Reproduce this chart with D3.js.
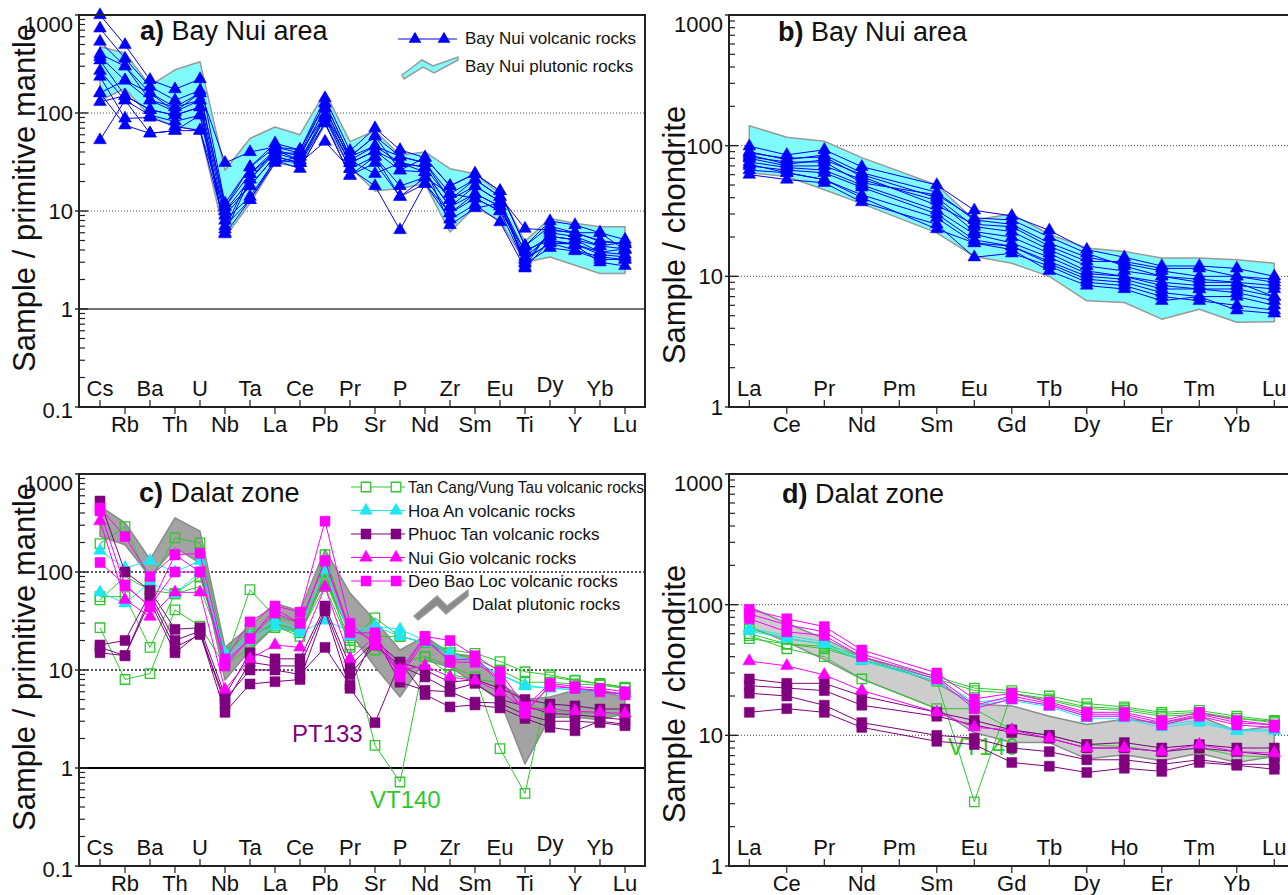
<!DOCTYPE html>
<html>
<head>
<meta charset="utf-8">
<script src="https://cdn.jsdelivr.net/npm/d3@7/dist/d3.min.js"></script>
<style>
body { margin: 0; background: #fff; }
svg { font-family: "Liberation Sans", Arial, sans-serif; }
</style>
</head>
<body>
<div id="chart"></div>
<script>
// Spider + REE diagrams, Bay Nui area and Dalat zone

// ==========================================================
// Element lists and tick values
var spiderElements = ["Cs", "Rb", "Ba", "Th", "U", "Nb", "Ta", "La", "Ce", "Pb", "Pr",
    "Sr", "P", "Nd", "Zr", "Sm", "Eu", "Ti", "Dy", "Y", "Yb", "Lu"];
var reeElements = ["La", "Ce", "Pr", "Nd", "Pm", "Sm", "Eu", "Gd", "Tb", "Dy", "Ho", "Er", "Tm", "Yb", "Lu"];
var spiderTicks = [0.1, 1, 10, 100, 1000];
var reeTicks = [1, 10, 100, 1000];

// ==========================================================
// a) Bay Nui - primitive mantle normalised
var bayNuiPlutonicUpper = [475, 410, 190, 276, 334, 26, 55, 72, 60, 163, 51, 66, 37, 40, 27, 24, 15, 4.9, 8.4, 7.5, 6.9, 6.9];
var bayNuiPlutonicLower = [134, 178, 92, 73, 67, 5.4, 12, 31, 28, 76, 28, 16, 17, 19, 6.1, 11, 8, 3.0, 3.4, 2.8, 2.3, 2.3];
var bayNuiVolcanicSpider = [
    [1000, 495, 218, 175, 222, 12, 28, 49, 42, 142, 41, 70, 42, 35, 18, 24, 16, 4.4, 7.9, 7.2, 6.0, 5.1],
    [730, 360, 186, 135, 170, 31, 40, 45, 39, 126, 36, 58, 36, 31, 15, 21, 14, 6.6, 6.4, 6.0, 4.9, 4.6],
    [535, 300, 160, 115, 160, 11, 24, 42, 36, 112, 33, 46, 31, 28, 13, 18, 12.5, 3.8, 5.5, 5.1, 4.4, 4.1],
    [375, 215, 135, 103, 135, 10, 21, 39, 33, 96, 31, 41, 26, 25, 11, 15, 11.2, 3.2, 4.7, 4.6, 3.8, 3.6],
    [345, 150, 108, 95, 115, 9, 18, 36, 31, 89, 27, 36, 18, 22, 9.5, 13.5, 10, 2.9, 4.2, 3.9, 3.2, 3.2],
    [270, 135, 95, 82, 95, 8, 14, 33, 27, 79, 23, 31, 14, 19, 8.2, 11.6, 7.7, 2.6, 5.0, 4.5, 3.0, 2.75],
    [235, 88, 90, 73, 66, 7, 13, 31, 36, 112, 33, 24, 31, 28, 7.2, 10.7, 12, 3.0, 6.0, 5.5, 4.4, 4.8],
    [160, 75, 62, 66, 95, 6.5, 24, 39, 39, 96, 36, 46, 36, 31, 13, 21, 14, 2.7, 6.4, 6.0, 5.0, 4.6],
    [130, 150, 108, 95, 115, 6, 21, 42, 33, 89, 31, 41, 31, 25, 11, 18, 12.5, 3.4, 5.5, 5.1, 3.8, 4.1],
    [53, 135, 62, 66, 66, 10, 18, 36, 31, 51, 27, 18, 6.4, 19, 9.5, 15, 11.2, 3.2, 4.7, 4.0, 3.4, 3.2],
    [400, 300, 135, 115, 135, 5.8, 13, 33, 31, 79, 23, 36, 14, 22, 15, 13.5, 10, 4.0, 5.0, 4.6, 3.6, 3.4],
    [160, 215, 160, 103, 160, 11, 28, 45, 42, 126, 36, 58, 26, 35, 18, 24, 16, 4.4, 7.0, 6.0, 6.0, 4.0]
];

// b) Bay Nui - chondrite normalised (Pm not analysed)
var bayNuiReeUpper = [142, 116, 108, 81, null, 50, 27, 30, 21, 16.5, 15.5, 13.8, 13.8, 13.4, 12.6];
var bayNuiReeLower = [62, 58, 46, 36, null, 21.5, 14.2, 12.6, 10, 6.5, 6.3, 4.7, 5.6, 4.45, 4.5];
var bayNuiVolcanicRee = [
    [99, 85, 93, 69, null, 50, 32, 29, 22.5, 16, 14, 12, 12, 11.5, 10],
    [90, 78, 85, 62, null, 44, 27, 25, 18, 14, 12.5, 11, 10, 10, 9],
    [85, 72, 78, 60, null, 40, 24, 22, 16, 12, 11, 10, 9, 9, 8.5],
    [80, 70, 70, 55, null, 38, 22, 20, 15, 11, 10, 9, 8.5, 8.5, 8],
    [75, 68, 65, 50, null, 32, 21, 18, 14, 10.5, 10, 8.5, 8, 8, 7],
    [70, 65, 62, 48, null, 30, 19, 17, 13, 10, 9.5, 8, 8, 7.5, 6.5],
    [65, 62, 55, 42, null, 28, 18, 17, 12.5, 9.5, 9, 7.5, 7, 7, 6],
    [60, 55, 52, 37, null, 25, 14, 15, 12, 9, 8.5, 7, 6.5, 6, 5.5],
    [88, 80, 82, 58, null, 35, 25, 24, 17, 13, 13, 11.5, 11.5, 10, 9.5],
    [72, 62, 55, 40, null, 23, 18, 16, 11, 8.5, 8, 6.5, 7, 5.5, 5.2],
    [82, 75, 75, 52, null, 42, 28, 27, 20, 15, 12, 10, 9.5, 9, 7]
];

// c) Dalat zone - primitive mantle normalised
var dalatPlutonicUpper = [470, 318, 134, 357, 261, 17, 28, 48, 40, 169, 61, 32, 16, 22, 14.8, 13.7, 7.3, 5.0, 5.3, 6.2, 6.0, 5.3];
var dalatPlutonicLower = [232, 190, 90, 177, 123, 7.9, 16, 28, 24, 83, 24, 10.8, 5.3, 12.6, 10.7, 7.3, 4.9, 1.1, 3.3, 3.3, 3.1, 3.6];
var tanCangSpider = [
    [195, 290, 78, 223, 198, 15, 22, 30, 25, 150, 25, 22, 22, 19, 16, 14.8, 12.2, 9.6, 8.9, 7.9, 7.3, 6.7],
    [56, 56, 17, 60, 90, 12, 66, 35, 30, 83, 20, 34, 22, 19, 15, 13, 10, 7.5, 7.5, 7.2, 7, 6.5],
    [52, 90, 65, 60, 71, 14, 26, 27, 24, 71, 18, 16, 12, 13.7, 9, 8, 7.5, 4.5, 3.8, 3.7, 3.6, 3.5],
    [27, 8, 9.2, 41, 28, 11, 17, 28, 22, 100, 17, 1.7, 0.72, 13.7, 11, 8.5, 1.58, 0.55, 8.5, 7.8, 7.2, 6.6]
];
var hoaAnSpider = [
    [165, 110, 130, 100, 130, 15, 22, 32, 26, 105, 22, 28, 26, 20, 15, 12, 9, 7, 6.5, 6.3, 6, 5.8],
    [62, 48, 78, 60, 100, 14, 20, 28, 24, 32, 25, 28, 22, 19, 14, 12, 9, 6.8, 6.5, 6.3, 6, 5.8]
];
var phuocTanSpider = [
    [530, 100, 65, 26, 27, 5.5, 15, 13, 13, 45, 11, 20, 12, 10, 7.5, 8, 6.5, 5, 4.5, 4.3, 4, 4],
    [18, 20, 60, 20, 25, 4.5, 12, 11, 11, 42, 9, 18, 11, 8.5, 6.2, 7.3, 5, 4.3, 3.6, 3.5, 3.3, 3.1],
    [17, 14, 55, 17, 23, 5, 10, 10, 9, 17, 7, 22, 7.5, 6.2, 6, 4.7, 4.6, 3.5, 3, 3, 2.9, 2.7],
    [15, 14, 50, 15, 24, 3.7, 7.2, 7.6, 8, 40, 6.5, 2.9, 12, 5.6, 4.2, 4.4, 4.1, 3.2, 2.6, 2.4, 3, 2.8]
];
var nuiGioSpider = [
    [330, 52, 35, 62, 62, 6.3, 13, 18, 17, 70, 13, 22, 10, 11, 8.5, 7.8, 6, 4, 4, 3.8, 3.7, 3.6]
];
var deoBaoLocSpider = [
    [450, 230, 90, 150, 155, 13, 31, 45, 39, 330, 30, 18, 10, 22, 20, 14, 9.6, 4.2, 7.3, 6.8, 6.5, 6],
    [420, 72, 45, 100, 100, 11, 21, 38, 30, 130, 24, 24, 8.5, 20, 12.6, 13, 8.2, 3.6, 7, 6.5, 6.2, 5.6],
    [125, 74, 44, 150, 100, 12, 21, 42, 30, 130, 26, 20, 9, 22, 12, 12, 8, 3.8, 6.8, 6.5, 6, 5.6]
];

// d) Dalat zone - chondrite normalised
var dalatReeUpper = [96, 72, 55, 40, null, 25, 17.3, 16.8, 14, 12.1, 13.3, 12.5, 14, 10.8, 11.8];
var dalatReeLower = [68, 52, 38, 27, null, 16, 10.5, 8.8, 8.8, 6.6, 7.1, 6.4, 7.3, 6.2, 6.9];
var tanCangRee = [
    [65, 55, 50, 40, null, 28, 23, 22, 20, 17.5, 16.5, 15, 15.5, 14, 13],
    [60, 50, 48, 38, null, 27, 22, 21, 19, 16.5, 16, 14.5, 15, 13.5, 12.5],
    [58, 46, 40, 27, null, 16, 16, 11, 10, 8.5, 8.2, 7.5, 8, 7, 6.8],
    [55, 50, 46, 38, null, 26, 3.1, 21, 18.5, 16, 15.5, 14, 14.5, 13.5, 12.8]
];
var hoaAnRee = [
    [66, 58, 52, 38, null, 27, 18, 19, 17, 14, 14, 12, 13, 11, 11],
    [63, 55, 50, 37, null, 26, 17, 18.5, 16.5, 13.5, 13.5, 11.5, 12.5, 10.8, 10.8]
];
var phuocTanRee = [
    [27, 25, 25, 20, null, 15, 13, 11, 10, 8.5, 8.8, 8, 8.5, 8, 8],
    [24, 23, 22, 17, null, 14, 12, 10.5, 9.5, 8, 8, 7.5, 8, 7.5, 7],
    [21, 20, 17, 12.5, null, 10, 9.5, 8, 7.5, 6.5, 6.5, 6, 6.5, 6, 6],
    [15, 16, 15, 11.5, null, 9, 8.5, 6.2, 5.8, 5.2, 5.6, 5.3, 6.2, 5.9, 5.5]
];
var nuiGioRee = [
    [37, 34, 29, 22, null, 15, 11.5, 11, 9.5, 8, 8, 7.5, 8.5, 7.5, 7.3]
];
var deoBaoLocRee = [
    [92, 78, 68, 45, null, 30, 19, 21, 18, 15, 15, 13, 15, 13, 12],
    [78, 62, 58, 40, null, 27, 16, 19, 17, 14, 14, 12, 14, 12, 11.5],
    [85, 70, 62, 42, null, 28, 17, 20, 17.5, 14.5, 14.5, 12.5, 14.5, 12.5, 12]
];

// ==========================================================
// Colours
var BLUE = "#0000ff";
var GREEN = "#2ec82e";
var CYAN = "#1ee6f2";
var PURPLE = "#800080";
var MAGENTA = "#ff00ff";

// ==========================================================
// SVG wrapper
var svg = d3.select("#chart")
    .append("svg")
    .attr("width", 1288)
    .attr("height", 895);

svg.append("rect").attr("width", 1288).attr("height", 895).attr("fill", "#fff");

// panel layouts
var panels = {
    a: { left: 79, right: 645, top: 15, bottom: 407, x0: 100, step: 25, elements: spiderElements, domain: [0.1, 1000], ticks: spiderTicks },
    b: { left: 729, right: 1300, top: 15, bottom: 407, x0: 749.3, step: 37.5, elements: reeElements, domain: [1, 1000], ticks: reeTicks },
    c: { left: 79, right: 645, top: 474, bottom: 866, x0: 100, step: 25, elements: spiderElements, domain: [0.1, 1000], ticks: spiderTicks },
    d: { left: 729, right: 1300, top: 474, bottom: 866, x0: 749.3, step: 37.5, elements: reeElements, domain: [1, 1000], ticks: reeTicks }
};

// build scales for a panel
function makeScales(p) {
    var n = p.elements.length;
    p.x = d3.scaleLinear().domain([0, n - 1]).range([p.x0, p.x0 + p.step * (n - 1)]);
    p.y = d3.scaleLog().domain(p.domain).range([p.bottom, p.top]);
    return p;
}

Object.keys(panels).forEach(function(k) { makeScales(panels[k]); });

// ==========================================================
// Drawing helpers

function drawGrid(p, heavy) {
    [10, 100].forEach(function(v) {
        svg.append("line")
            .attr("x1", p.left).attr("x2", p.right)
            .attr("y1", p.y(v)).attr("y2", p.y(v))
            .attr("stroke", heavy ? "#222" : "#444")
            .attr("stroke-width", heavy ? 1.6 : 1)
            .attr("stroke-dasharray", heavy ? "2,2" : "1,2");
    });
    if (p.domain[0] < 1) {
        svg.append("line")
            .attr("x1", p.left).attr("x2", p.right)
            .attr("y1", p.y(1)).attr("y2", p.y(1))
            .attr("stroke", heavy ? "#000" : "#444")
            .attr("stroke-width", heavy ? 2 : 1.5);
    }
}

function drawEnvelope(p, upper, lower, fill, stroke) {
    var top = [], bot = [];
    upper.forEach(function(v, i) { if (v != null) top.push([p.x(i), p.y(v)]); });
    lower.forEach(function(v, i) { if (v != null) bot.push([p.x(i), p.y(v)]); });
    var pts = top.concat(bot.reverse());
    svg.append("path")
        .attr("d", d3.line()(pts) + "Z")
        .attr("fill", fill)
        .attr("stroke", stroke)
        .attr("stroke-width", 1.5)
        .attr("stroke-linejoin", "round");
}

function symbolPath(shape, size) {
    return d3.symbol().type(shape === "tri" ? d3.symbolTriangle : d3.symbolSquare).size(size)();
}

function drawSamples(p, samples, color, shape, filled, size) {
    var g = svg.append("g");
    var line = d3.line().x(d => p.x(d.i)).y(d => p.y(d.v));
    samples.forEach(function(s) {
        var pts = s.map(function(v, i) { return { i: i, v: v }; }).filter(d => d.v != null);
        g.append("path")
            .attr("d", line(pts))
            .attr("fill", "none")
            .attr("stroke", color)
            .attr("stroke-width", 1);
        g.selectAll(null)
            .data(pts)
            .enter()
            .append("path")
            .attr("transform", d => `translate(${p.x(d.i)}, ${p.y(d.v)})`)
            .attr("d", symbolPath(shape, size))
            .attr("fill", filled ? color : "none")
            .attr("stroke", color)
            .attr("stroke-width", filled ? 0.5 : 1.3);
    });
}

function drawAxes(p, title, yTitle) {
    // minor ticks
    var minor = [];
    var lo = Math.round(Math.log10(p.domain[0])), hi = Math.round(Math.log10(p.domain[1]));
    for (var e = lo; e < hi; e++) {
        for (var k = 2; k <= 9; k++) minor.push(k * Math.pow(10, e));
    }
    svg.append("g").selectAll("line").data(minor).enter().append("line")
        .attr("x1", p.left).attr("x2", p.left + 6)
        .attr("y1", d => p.y(d)).attr("y2", d => p.y(d))
        .attr("stroke", "#222").attr("stroke-width", 1.2);
    svg.append("g").selectAll("line").data(p.ticks).enter().append("line")
        .attr("x1", p.left - 4).attr("x2", p.left + 9)
        .attr("y1", d => p.y(d)).attr("y2", d => p.y(d))
        .attr("stroke", "#222").attr("stroke-width", 1.4);

    // y tick labels
    svg.append("g").selectAll("text").data(p.ticks).enter().append("text")
        .attr("x", p.left - 6)
        .attr("y", function(d, i) {
            if (i === p.ticks.length - 1) return p.y(d) + 17;
            if (i === 0 && d < 1) return p.y(d) + 11;
            return p.y(d) + 8;
        })
        .attr("text-anchor", "end")
        .attr("font-size", 22)
        .attr("fill", "#111")
        .text(d => String(d));

    // element ticks and labels, alternating inside / outside
    var cat = svg.append("g");
    cat.selectAll("line").data(p.elements).enter().append("line")
        .attr("x1", (d, i) => p.x(i)).attr("x2", (d, i) => p.x(i))
        .attr("y1", p.bottom)
        .attr("y2", (d, i) => i % 2 === 0 ? p.bottom - 7 : p.bottom + 7)
        .attr("stroke", "#222").attr("stroke-width", 1.2);
    cat.selectAll("text").data(p.elements).enter().append("text")
        .attr("x", (d, i) => p.x(i))
        .attr("y", function(d, i) {
            if (i % 2 === 1) return p.bottom + 25;
            return p.bottom - 11 - (d === "Dy" && p.elements.length > 15 ? 4 : 0);
        })
        .attr("text-anchor", "middle")
        .attr("font-size", 22)
        .attr("fill", "#111")
        .text(d => d);

    // frame
    svg.append("rect")
        .attr("x", p.left).attr("y", p.top)
        .attr("width", p.right - p.left).attr("height", p.bottom - p.top)
        .attr("fill", "none").attr("stroke", "#222").attr("stroke-width", 2);

    // y axis title
    svg.append("text")
        .attr("transform", `translate(${p.left - 44}, ${p.top + (p.elements.length > 15 ? 183 : 220)}) rotate(-90)`)
        .attr("text-anchor", "middle")
        .attr("font-size", 31)
        .attr("fill", "#111")
        .text(yTitle);

    // panel title
    var t = svg.append("text")
        .attr("x", p.titleX).attr("y", p.titleY)
        .attr("font-size", 27)
        .attr("fill", "#111");
    t.append("tspan").attr("font-weight", "bold").text(title[0]);
    t.append("tspan").text(" " + title[1]);
}

// ==========================================================
// Panel a
panels.a.titleX = 140; panels.a.titleY = 40;
drawGrid(panels.a, false);
drawEnvelope(panels.a, bayNuiPlutonicUpper, bayNuiPlutonicLower, "#80fbfb", "#999");
drawSamples(panels.a, bayNuiVolcanicSpider, BLUE, "tri", true, 70);
drawAxes(panels.a, ["a)", "Bay Nui area"], "Sample / primitive mantle");

// legend a
var legA = svg.append("g");
legA.append("line").attr("x1", 398).attr("x2", 457).attr("y1", 39).attr("y2", 39)
    .attr("stroke", BLUE).attr("stroke-width", 1.2);
[415, 444].forEach(function(x) {
    legA.append("path").attr("transform", `translate(${x}, 39)`)
        .attr("d", symbolPath("tri", 70)).attr("fill", BLUE);
});
legA.append("text").attr("x", 465).attr("y", 44).attr("font-size", 17).attr("fill", "#111")
    .text("Bay Nui volcanic rocks");
legA.append("path")
    .attr("d", "M402,75 L422,60 L433,66 L458,57 L458,60 L434,73 L423,67 L404,79 Z")
    .attr("fill", "#80fbfb").attr("stroke", "#999").attr("stroke-width", 1.5);
legA.append("text").attr("x", 465).attr("y", 72).attr("font-size", 17).attr("fill", "#111")
    .text("Bay Nui plutonic rocks");

// ==========================================================
// Panel b
panels.b.titleX = 778; panels.b.titleY = 41;
drawGrid(panels.b, false);
drawEnvelope(panels.b, bayNuiReeUpper, bayNuiReeLower, "#80fbfb", "#999");
drawSamples(panels.b, bayNuiVolcanicRee, BLUE, "tri", true, 70);
drawAxes(panels.b, ["b)", "Bay Nui area"], "Sample / chondrite");

// ==========================================================
// Panel c
panels.c.titleX = 139; panels.c.titleY = 502;
drawGrid(panels.c, true);
drawEnvelope(panels.c, dalatPlutonicUpper, dalatPlutonicLower, "#a3a3a3", "#8a8a8a");
svg.append("text").attr("x", 292).attr("y", 742).attr("font-size", 24).attr("fill", PURPLE).text("PT133");
svg.append("text").attr("x", 370).attr("y", 808).attr("font-size", 24).attr("fill", GREEN).text("VT140");
drawSamples(panels.c, tanCangSpider, GREEN, "sq", false, 90);
drawSamples(panels.c, hoaAnSpider, CYAN, "tri", true, 70);
drawSamples(panels.c, phuocTanSpider, PURPLE, "sq", true, 100);
drawSamples(panels.c, nuiGioSpider, MAGENTA, "tri", true, 70);
drawSamples(panels.c, deoBaoLocSpider, MAGENTA, "sq", true, 100);
drawAxes(panels.c, ["c)", "Dalat zone"], "Sample / primitive mantle");

// legend c
var legendItems = [
    { name: "Tan Cang/Vung Tau volcanic rocks", color: GREEN, shape: "sq", filled: false, size: 90 },
    { name: "Hoa An volcanic rocks", color: CYAN, shape: "tri", filled: true, size: 70 },
    { name: "Phuoc Tan volcanic rocks", color: PURPLE, shape: "sq", filled: true, size: 100 },
    { name: "Nui Gio volcanic rocks", color: MAGENTA, shape: "tri", filled: true, size: 70 },
    { name: "Deo Bao Loc volcanic rocks", color: MAGENTA, shape: "sq", filled: true, size: 100 }
];
var legC = svg.append("g");
legendItems.forEach(function(it, i) {
    var ly = 487 + i * 23.5;
    legC.append("line").attr("x1", 351).attr("x2", 405).attr("y1", ly).attr("y2", ly)
        .attr("stroke", it.color).attr("stroke-width", 1.2);
    [366, 396].forEach(function(x) {
        legC.append("path").attr("transform", `translate(${x}, ${ly})`)
            .attr("d", symbolPath(it.shape, it.size))
            .attr("fill", it.filled ? it.color : "#fff")
            .attr("stroke", it.color).attr("stroke-width", it.filled ? 0.5 : 1.3);
    });
    var tx = legC.append("text").attr("x", 408).attr("y", ly + 6)
        .attr("font-size", 17).attr("fill", "#111").text(it.name);
    if (i === 0) tx.attr("textLength", 236).attr("lengthAdjust", "spacingAndGlyphs");
});
legC.append("path")
    .attr("d", "M414,616 L437,596 L447,606 L468,590 L468,596 L446,614 L437,605 L418,620 Z")
    .attr("fill", "#8a8a8a").attr("stroke", "#9a9a9a").attr("stroke-width", 1.5)
    .attr("stroke-linejoin", "round");
legC.append("text").attr("x", 472).attr("y", 610).attr("font-size", 17).attr("fill", "#111")
    .text("Dalat plutonic rocks");

// ==========================================================
// Panel d
panels.d.titleX = 782; panels.d.titleY = 503;
drawGrid(panels.d, false);
drawEnvelope(panels.d, dalatReeUpper, dalatReeLower, "#cdcdcd", "#8c8c8c");
svg.append("text").attr("x", 948).attr("y", 755).attr("font-size", 24).attr("fill", GREEN).text("VT140");
drawSamples(panels.d, tanCangRee, GREEN, "sq", false, 90);
drawSamples(panels.d, hoaAnRee, CYAN, "tri", true, 70);
drawSamples(panels.d, phuocTanRee, PURPLE, "sq", true, 100);
drawSamples(panels.d, nuiGioRee, MAGENTA, "tri", true, 70);
drawSamples(panels.d, deoBaoLocRee, MAGENTA, "sq", true, 100);
drawAxes(panels.d, ["d)", "Dalat zone"], "Sample / chondrite");
</script>
</body>
</html>
